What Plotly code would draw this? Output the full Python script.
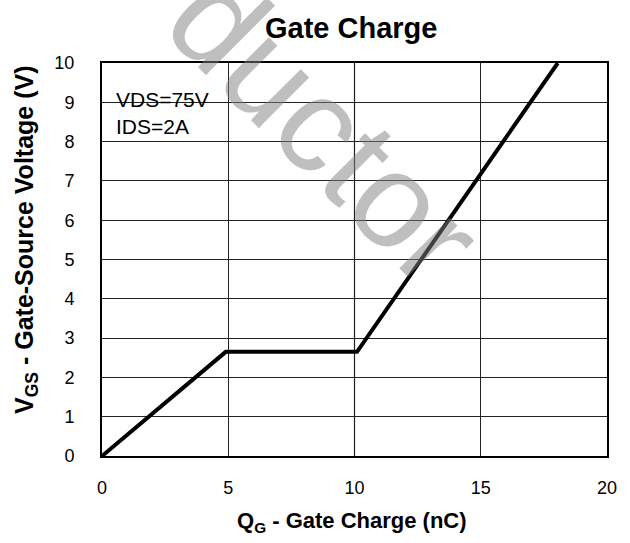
import plotly.graph_objects as go

# Data
qg_nc = [0.0, 4.9, 10.1, 18.05]
vgs_v = [0.0, 2.65, 2.65, 10.0]

x_ticks = [0, 5, 10, 15, 20]
y_ticks = [0, 1, 2, 3, 4, 5, 6, 7, 8, 9, 10]

title_text = "Gate Charge"
x_title = "Q<sub>G</sub> - Gate Charge (nC)"
y_title = "V<sub>GS</sub> - Gate-Source Voltage (V)"
cond_text = "VDS=75V<br>IDS=2A"
watermark = "ductor"

FONT = "Liberation Sans, Arial, sans-serif"

W, H = 630, 543
L, R, T, B = 102, 23, 63, 87
PW, PH = W - L - R, H - T - B


def px(x):
    return (x - L) / PW


def py(y):
    return (H - B - y) / PH


fig = go.Figure()
fig.add_trace(go.Scatter(
    x=qg_nc, y=vgs_v, mode="lines",
    line=dict(color="black", width=4),
    showlegend=False, hoverinfo="skip",
))

fig.update_layout(
    width=W, height=H,
    margin=dict(l=L, r=R, t=T, b=B),
    paper_bgcolor="white", plot_bgcolor="white",
    font=dict(family=FONT, color="black"),
    showlegend=False,
)

fig.update_xaxes(
    range=[0, 20], tickvals=x_ticks, ticktext=[str(v) for v in x_ticks],
    showgrid=True, gridcolor="#222222", gridwidth=1,
    showline=True, linecolor="black", linewidth=2, mirror=True,
    ticks="", ticklabelstandoff=14,
    tickfont=dict(size=18, family=FONT, color="black"),
    zeroline=False, fixedrange=True,
)
fig.update_yaxes(
    range=[0, 10], tickvals=y_ticks, ticktext=[str(v) for v in y_ticks],
    showgrid=True, gridcolor="#222222", gridwidth=1,
    showline=True, linecolor="black", linewidth=2, mirror=True,
    ticks="", ticklabelstandoff=22,
    tickfont=dict(size=18, family=FONT, color="black"),
    zeroline=False, fixedrange=True,
)

# gray gridline at x=10 and white box behind condition text
fig.add_shape(type="line", xref="x", yref="paper", x0=10, x1=10, y0=0, y1=1,
              line=dict(color="#9a9a9a", width=1.5), layer="between")
fig.add_shape(type="rect", xref="paper", yref="paper",
              x0=px(108), x1=px(233), y0=py(140), y1=py(76),
              fillcolor="white", line=dict(width=0), layer="between")

annotations = [
    dict(text=f"<b>{title_text}</b>", x=px(351), y=py(28), xref="paper", yref="paper",
         showarrow=False, xanchor="center", yanchor="middle",
         font=dict(size=29, family=FONT, color="black")),
    dict(text=f"<b>{x_title}</b>", x=px(352), y=py(522), xref="paper", yref="paper",
         showarrow=False, xanchor="center", yanchor="middle",
         font=dict(size=22, family=FONT, color="black")),
    dict(text=f"<b>{y_title}</b>", x=px(26), y=py(240), xref="paper", yref="paper",
         showarrow=False, xanchor="center", yanchor="middle", textangle=-90,
         font=dict(size=25, family=FONT, color="black")),
    dict(text=cond_text, x=px(114), y=py(113), xref="paper", yref="paper",
         showarrow=False, xanchor="left", yanchor="middle", align="left",
         font=dict(size=21, family=FONT, color="black")),
    dict(text=watermark, x=px(324), y=py(128), xref="paper", yref="paper",
         showarrow=False, xanchor="center", yanchor="middle", textangle=45,
         font=dict(size=135, family=FONT, color="rgba(128,128,128,0.5)")),
]
fig.update_layout(annotations=annotations)

fig.write_html(
    "out.html",
    config={"displayModeBar": False},
    post_script="document.body.style.margin='0';document.body.style.padding='0';",
)
